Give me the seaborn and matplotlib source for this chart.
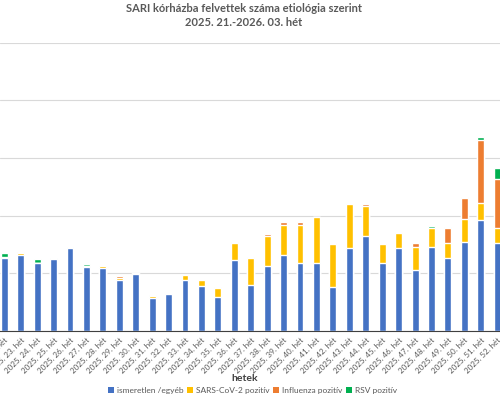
import matplotlib
matplotlib.use("Agg")
import matplotlib.pyplot as plt
from matplotlib.patches import Patch
import pandas as pd
import seaborn as sns

# heti kategóriák (a kép bal szélén 2025. 22. hét, jobb szélén 2025. 52. hét)
weeks = ["2025. %d. hét" % w for w in range(22, 53)]
tick_order = weeks + ["2026. 01. hét"]

unknown = [63, 66, 59, 62, 72, 55, 54, 44, 49, 28, 32, 44, 39, 29, 61, 40,
           56, 66, 59, 59, 38, 72, 82, 59, 72, 53, 73, 63, 77, 96, 76]
sars = [0, 1, 0, 0, 0, 1, 2, 2, 1, 2, 0, 4, 5, 8, 15, 23,
        26, 26, 33, 40, 37, 38, 26, 16, 13, 20, 16, 13, 20, 15, 13]
flu = [1, 1, 0, 0, 0, 0, 0, 1, 0, 0, 0, 0, 0, 1, 0, 0,
       2, 2, 2, 0, 1, 0, 2, 0, 0, 3, 0, 13, 18, 55, 43]
rsv = [3, 0, 3, 1, 1, 2, 0, 0, 0, 1, 0, 0, 0, 0, 1, 1,
       0, 0, 0, 0, 0, 0, 0, 0, 0, 0, 2, 1, 1, 2, 9]

series = ["ismeretlen /egyéb", "SARS-CoV-2 pozitív", "Influenza pozitív", "RSV pozitív"]
colors = ["#4472C4", "#FFC000", "#ED7D31", "#00B050"]

df = pd.DataFrame({"het": weeks, "unknown": unknown, "sars": sars, "flu": flu, "rsv": rsv})
df["s1"] = df["unknown"]
df["s2"] = df["s1"] + df["sars"]
df["s3"] = df["s2"] + df["flu"]
df["s4"] = df["s3"] + df["rsv"]

sns.set_style("white")
plt.rcParams["font.family"] = ["Lato", "DejaVu Sans"]

fig = plt.figure(figsize=(5, 4), dpi=100)
ax = fig.add_axes([0, 0.17375, 1, 0.71875])

# halmozott oszlopok: a teljes magasságtól lefelé rajzolva egymásra
for col, c in zip(["s4", "s3", "s2", "s1"], colors[::-1]):
    sns.barplot(data=df, x="het", y=col, order=tick_order, color=c,
                saturation=1, width=0.42, ax=ax, zorder=2)

ax.set_yticks(range(0, 251, 50))
ax.set_yticklabels([])
ax.tick_params(axis="y", length=0)
ax.yaxis.grid(True, color="#D9D9D9", linewidth=0.8)
ax.set_axisbelow(True)

for s in ["top", "left", "right"]:
    ax.spines[s].set_visible(False)
ax.spines["bottom"].set_color("#404040")
ax.spines["bottom"].set_linewidth(0.8)

ax.set_xticks(range(len(tick_order)))
ax.set_xticklabels(tick_order, rotation=45, ha="right", rotation_mode="anchor",
                   fontsize=5.8, color="#595959")
ax.tick_params(axis="x", which="major", length=0, pad=4)
ax.set_xticks([i + 0.5 for i in range(-1, len(tick_order))], minor=True)
ax.tick_params(axis="x", which="minor", length=3, width=0.8, color="#404040")

# a tengelyhatárokat a tickek után kell beállítani
ax.set_xlim(-0.262, 30.17)
ax.set_ylim(0, 250)

ax.set_xlabel("hetek", fontsize=7.5, fontweight="bold", color="#404040")
ax.xaxis.set_label_coords(0.49, -0.15)
ax.set_ylabel("")

fig.text(0.488, 0.993, "SARI kórházba felvettek száma etiológia szerint\n2025. 21.-2026. 03. hét",
         ha="center", va="top", fontsize=8, fontweight="bold", color="#595959",
         linespacing=1.3)

handles = [Patch(facecolor=c, edgecolor="none") for c in colors]
fig.legend(handles, series, loc="center", bbox_to_anchor=(0.505, 0.025), ncol=4,
           frameon=False, fontsize=6.0, handlelength=0.7, handleheight=0.7,
           handletextpad=0.4, columnspacing=0.4, labelcolor="#595959")

fig.savefig("out.png", dpi=100)
